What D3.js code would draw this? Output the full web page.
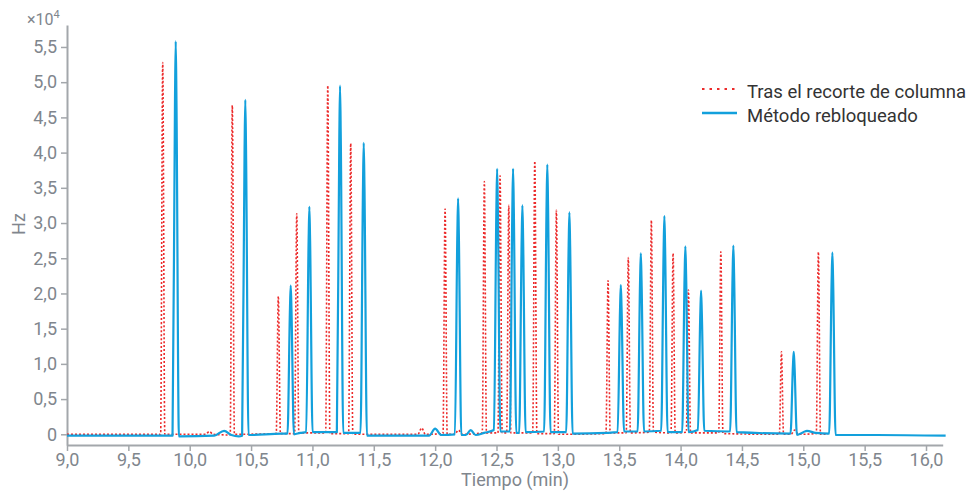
<!DOCTYPE html>
<html>
<head>
<meta charset="utf-8">
<script src="https://cdn.jsdelivr.net/npm/d3@7"></script>
<style>
  body { margin: 0; background: #fff; }
  text { font-family: Roboto, "Noto Sans", sans-serif; }
</style>
</head>
<body>
<div id="root"></div>
<script>
// chromatogram traces, [time (min), signal (x10^4 Hz)]
const recutTrace = [
  [9.0, 0.0], [9.763, 0.0], [9.78, 5.28], [9.797, 0.0],
  [10.13, 0.0], [10.16, 0.04], [10.19, 0.0],
  [10.33, -0.01], [10.347, 4.67], [10.364, 0.0],
  [10.705, 0.01], [10.722, 1.96], [10.739, 0.01],
  [10.855, 0.01], [10.872, 3.13], [10.889, 0.02],
  [11.108, 0.02], [11.125, 4.95], [11.142, 0.01],
  [11.295, 0.01], [11.312, 4.13], [11.329, 0.0],
  [11.86, 0.0], [11.89, 0.09], [11.92, 0.0],
  [12.064, 0.01], [12.081, 3.2], [12.098, 0.0],
  [12.16, 0.0], [12.19, 0.06], [12.22, 0.0],
  [12.384, 0.02], [12.401, 3.59], [12.418, 0.02],
  [12.512, 0.02], [12.529, 3.67], [12.546, 0.02],
  [12.583, 0.02], [12.6, 3.25], [12.617, 0.02],
  [12.795, 0.02], [12.812, 3.88], [12.829, 0.01],
  [12.971, 0.01], [12.988, 3.18], [13.005, 0.0],
  [13.392, 0.01], [13.409, 2.18], [13.426, 0.02],
  [13.557, 0.02], [13.574, 2.51], [13.591, 0.02],
  [13.745, 0.03], [13.762, 3.04], [13.779, 0.03],
  [13.922, 0.02], [13.939, 2.57], [13.956, 0.02],
  [14.047, 0.03], [14.064, 2.05], [14.081, 0.02],
  [14.311, 0.02], [14.328, 2.59], [14.345, 0.01],
  [14.805, 0.0], [14.822, 1.17], [14.839, 0.0],
  [14.9, 0.0], [14.93, 0.06], [14.96, 0.0],
  [15.106, 0.01], [15.123, 2.59], [15.14, 0.0],
  [15.2, 0.0],
];

const relockTrace = [
  [9.0, -0.02],
  [9.86, -0.02], [9.88, 4.74], [9.886, 5.58], [9.892, 4.74], [9.912, -0.03],
  [10.2, -0.02], [10.28, 0.05], [10.34, -0.01], [10.4, -0.03],
  [10.427, -0.02], [10.447, 4.04], [10.453, 4.75], [10.459, 4.04], [10.479, -0.01],
  [10.75, 0.01],
  [10.797, 0.01], [10.817, 1.79], [10.823, 2.11], [10.829, 1.79], [10.849, 0.0],
  [10.9, 0.02],
  [10.949, 0.03], [10.969, 2.75], [10.975, 3.23], [10.981, 2.75], [11.001, 0.03],
  [11.199, 0.03], [11.219, 4.21], [11.225, 4.95], [11.231, 4.21], [11.251, 0.02],
  [11.392, 0.02], [11.412, 3.52], [11.418, 4.14], [11.424, 3.52], [11.444, -0.02],
  [11.95, -0.02], [12.0, 0.08], [12.05, -0.01],
  [12.161, 0.0], [12.181, 2.85], [12.187, 3.35], [12.193, 2.85], [12.213, -0.01],
  [12.25, -0.01], [12.29, 0.06], [12.33, -0.01], [12.4, 0.02],
  [12.479, 0.06], [12.499, 3.2], [12.505, 3.77], [12.511, 3.2], [12.531, 0.04],
  [12.609, 0.04], [12.629, 3.2], [12.635, 3.77], [12.641, 3.2], [12.661, 0.02],
  [12.685, 0.02], [12.705, 2.76], [12.711, 3.25], [12.717, 2.76], [12.737, 0.03],
  [12.888, 0.04], [12.908, 3.26], [12.914, 3.83], [12.92, 3.26], [12.94, 0.03],
  [13.068, 0.03], [13.088, 2.68], [13.094, 3.15], [13.1, 2.68], [13.12, 0.01],
  [13.4, 0.02],
  [13.487, 0.03], [13.507, 1.8], [13.513, 2.12], [13.519, 1.8], [13.539, 0.04],
  [13.65, 0.04], [13.67, 2.18], [13.676, 2.57], [13.682, 2.18], [13.702, 0.04],
  [13.842, 0.05], [13.862, 2.64], [13.868, 3.1], [13.874, 2.64], [13.894, 0.03],
  [14.013, 0.03], [14.033, 2.27], [14.039, 2.67], [14.045, 2.27], [14.065, 0.03],
  [14.141, 0.06], [14.161, 1.73], [14.167, 2.04], [14.173, 1.73], [14.193, 0.05],
  [14.404, 0.04], [14.424, 2.28], [14.43, 2.68], [14.436, 2.28], [14.456, 0.03],
  [14.896, 0.01], [14.916, 0.99], [14.922, 1.17], [14.928, 0.99], [14.948, -0.01],
  [15.0, 0.03], [15.03, 0.05], [15.1, 0.02],
  [15.211, 0.01], [15.231, 2.19], [15.237, 2.58], [15.243, 2.19], [15.263, -0.01],
  [15.6, -0.01], [16.16, -0.02],
];

const xTicks = [9, 9.5, 10, 10.5, 11, 11.5, 12, 12.5, 13, 13.5, 14, 14.5, 15, 15.5, 16];
const yTicks = [0, 0.5, 1, 1.5, 2, 2.5, 3, 3.5, 4, 4.5, 5, 5.5];
const seriesNames = ["Tras el recorte de columna", "Método rebloqueado"];

const w = 969;
const h = 493;
const padLeft = 67;
const plotRight = 942.7;
const padTop = 25;
const axisY = 445;

const gray = "#80868d";
const axisGray = "#a3a7ab";
const red = "#ec2b2b";
const blue = "#12a0dc";

const svg = d3
  .select("#root")
  .append("svg")
  .attr("width", w)
  .attr("height", h);

const xScale = d3.scaleLinear().domain([9, 16.136]).range([padLeft, plotRight]);
const yScale = d3.scaleLinear().domain([-0.152, 5.812]).range([axisY, padTop]);

const locale = d3.formatLocale({
  decimal: ",",
  thousands: ".",
  grouping: [3],
  currency: ["", ""],
});
const fmt = locale.format(".1f");

const xAxis = d3
  .axisBottom(xScale)
  .tickValues(xTicks)
  .tickFormat(fmt)
  .tickSizeInner(6)
  .tickSizeOuter(0)
  .tickPadding(2);

const yAxis = d3
  .axisLeft(yScale)
  .tickValues(yTicks)
  .tickFormat((d) => (d === 0 ? "0" : fmt(d)))
  .tickSizeInner(6)
  .tickSizeOuter(0)
  .tickPadding(4);

const gx = svg
  .append("g")
  .attr("id", "x-axis")
  .attr("transform", `translate(0,${axisY})`)
  .call(xAxis);

const gy = svg
  .append("g")
  .attr("id", "y-axis")
  .attr("transform", `translate(${padLeft},0)`)
  .call(yAxis);

[gx, gy].forEach((g) => {
  g.select(".domain").attr("stroke", axisGray).attr("stroke-width", 2);
  g.selectAll(".tick line").attr("stroke", axisGray).attr("stroke-width", 1.5);
  g.selectAll(".tick text")
    .attr("fill", gray)
    .attr("font-size", 18)
    .attr("font-family", "Roboto, sans-serif");
});

// traces
const line = d3
  .line()
  .x((d) => xScale(d[0]))
  .y((d) => yScale(d[1]))
  .curve(d3.curveMonotoneX);

svg
  .append("path")
  .datum(recutTrace)
  .attr("d", line)
  .attr("fill", "none")
  .attr("stroke", red)
  .attr("stroke-width", 1.6)
  .attr("stroke-dasharray", "2,2");

svg
  .append("path")
  .datum(relockTrace)
  .attr("d", line)
  .attr("fill", "none")
  .attr("stroke", blue)
  .attr("stroke-width", 2.2)
  .attr("stroke-linejoin", "round");

// axis titles
svg
  .append("text")
  .attr("x", 515)
  .attr("y", 486)
  .attr("text-anchor", "middle")
  .attr("font-size", 18)
  .attr("fill", gray)
  .text("Tiempo (min)");

svg
  .append("text")
  .attr("transform", `translate(25, 224) rotate(-90)`)
  .attr("text-anchor", "middle")
  .attr("font-size", 18)
  .attr("fill", gray)
  .text("Hz");

const exp = svg
  .append("text")
  .attr("x", 27)
  .attr("y", 25)
  .attr("font-size", 16)
  .attr("fill", gray);
exp.append("tspan").text("×10");
exp.append("tspan").attr("font-size", 11).attr("dy", -7).text("4");

// legend
const legend = svg.append("g").attr("transform", "translate(702, 89)");

legend
  .selectAll("line")
  .data(seriesNames)
  .join("line")
  .attr("x1", 0)
  .attr("x2", 35)
  .attr("y1", (d, i) => i * 24)
  .attr("y2", (d, i) => i * 24)
  .attr("stroke", (d, i) => (i === 0 ? red : blue))
  .attr("stroke-width", (d, i) => (i === 0 ? 2 : 2.5))
  .attr("stroke-dasharray", (d, i) => (i === 0 ? "2.5,5" : null));

legend
  .selectAll("text")
  .data(seriesNames)
  .join("text")
  .attr("x", 45)
  .attr("y", (d, i) => i * 24 + 3)
  .attr("dy", "0.32em")
  .attr("font-size", 18.5)
  .attr("fill", "#333")
  .text((d) => d);
</script>
</body>
</html>
